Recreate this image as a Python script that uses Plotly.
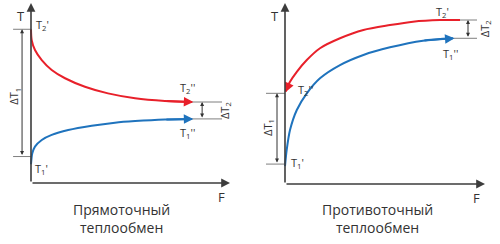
import plotly.graph_objects as go

# ---------------- data (F, T in relative units 0..100) ----------------
# Left panel: co-current (Прямоточный)
L_hot_F = [0, 0.35, 2, 5.4, 10.4, 17.1, 27.1, 38.7, 52.3, 67.3, 80.9]
L_hot_T = [85.4, 79.4, 73.9, 68.3, 62.8, 58.2, 53.5, 49.8, 47.1, 45.6, 45.0]
L_cold_F = [0, 0.65, 2, 5.4, 10.4, 18.7, 30.5, 42.2, 52.3, 67.3, 80.9]
L_cold_T = [10.4, 16.5, 20.2, 23.9, 26.7, 29.4, 31.8, 33.5, 34.4, 35.3, 35.6]
L_dT1 = [85.4, 14.7]   # ΔT1 bracket levels
L_dT2 = [45.0, 35.6]   # ΔT2 bracket levels

# Right panel: counter-current (Противоточный)
R_hot_F = [87.5, 77.5, 64, 52.5, 39.2, 27.5, 17.5, 10.9, 5.9, 2.5, 0.3]
R_hot_T = [90.6, 90.6, 89.7, 87.8, 85.1, 80.5, 75.0, 68.5, 62.0, 56.5, 51.0]
R_cold_F = [0, 0.85, 2.5, 5.9, 10.9, 17.5, 27.5, 39.2, 52.5, 69, 84]
R_cold_T = [9.9, 18.8, 29.8, 40.9, 50.1, 58.4, 65.7, 71.3, 75.5, 79.2, 80.5]
R_dT1 = [50.1, 11.0]
R_dT2 = [90.6, 80.5]

titles = ["Прямоточный<br>теплообмен", "Противоточный<br>теплообмен"]

RED = "#e8202a"
BLUE = "#1f73bd"
AX = "#3c3c3c"
GR = "#7f7f7f"
FONT = "Open Sans"

W, H = 500, 244

def ranges(px0, px1, ox, fx, oy, ty):
    sx = (fx - ox) / 100.0
    sy = (oy - ty) / 100.0
    xr = [(px0 - ox) / sx, (px1 - ox) / sx]
    yr = [(oy - H) / sy, oy / sy]
    return xr, yr

xr1, yr1 = ranges(0, 250, 31, 230, 183, 3)
xr2, yr2 = ranges(250, 500, 285, 485, 184, 3)

fig = go.Figure()

def curve(F, T, color, xa, ya):
    fig.add_trace(go.Scatter(x=F, y=T, mode="lines", line=dict(color=color, width=2, shape="spline", smoothing=0.8),
                             xaxis=xa, yaxis=ya, hoverinfo="skip", showlegend=False))

curve(L_hot_F, L_hot_T, RED, "x", "y")
curve(L_cold_F, L_cold_T, BLUE, "x", "y")
curve(R_hot_F, R_hot_T, RED, "x2", "y2")
curve(R_cold_F, R_cold_T, BLUE, "x2", "y2")

ann = []
shapes = []

def arrow(x, y, ax, ay, xr, yr, color, width=2, head=2, size=1.0, side="end"):
    ann.append(dict(x=x, y=y, ax=ax, ay=ay, xref=xr, yref=yr, axref=xr, ayref=yr, text="",
                    showarrow=True, arrowhead=head, arrowsize=size, arrowwidth=width,
                    arrowcolor=color, arrowside=side, standoff=0, startstandoff=0))

def line(x0, y0, x1, y1, xr, yr, color=GR, width=1):
    shapes.append(dict(type="line", x0=x0, y0=y0, x1=x1, y1=y1, xref=xr, yref=yr,
                       line=dict(color=color, width=width), layer="above"))

def text(x, y, s, xr, yr, size=11, angle=0, xanchor="center", yanchor="middle", color="#333"):
    ann.append(dict(x=x, y=y, text=s, xref=xr, yref=yr, showarrow=False, textangle=angle,
                    xanchor=xanchor, yanchor=yanchor, font=dict(family=FONT, size=size, color=color)))

def curve_head(F, T, color, xr, yr):
    arrow(F[-1] + (F[-1] - F[-2]) * 0.05, T[-1] + (T[-1] - T[-2]) * 0.05, F[-2], T[-2], xr, yr, color, width=2, head=2, size=0.95)

curve_head(L_hot_F, L_hot_T, RED, "x", "y")
curve_head(L_cold_F, L_cold_T, BLUE, "x", "y")
curve_head(R_hot_F, R_hot_T, RED, "x2", "y2")
curve_head(R_cold_F, R_cold_T, BLUE, "x2", "y2")

# ----- axes -----
for xr, yr in (("x", "y"), ("x2", "y2")):
    arrow(0, 100, 0, 0, xr, yr, AX, width=1.6, head=2, size=1.1)
    arrow(100, 0, 0, 0, xr, yr, AX, width=1.6, head=2, size=1.1)
    text(-5, 93, "T", xr, yr, size=13)
    text(95.5, -8, "F", xr, yr, size=13)

# ----- left panel annotations -----
text(1.5, 88, "T<sub>2</sub>'", "x", "y", xanchor="left")
text(1.0, 8, "T<sub>1</sub>'", "x", "y", xanchor="left")
text(78.4, 53, "T<sub>2</sub>''", "x", "y")
text(78.4, 28, "T<sub>1</sub>''", "x", "y")
line(-9, L_dT1[0], 0, L_dT1[0], "x", "y")
line(-9, L_dT1[1], 0, L_dT1[1], "x", "y")
arrow(-4.5, L_dT1[0], -4.5, L_dT1[1], "x", "y", "#333", width=1, head=2, size=0.8, side="end+start")
text(-8.5, 48, "ΔT<sub>1</sub>", "x", "y", angle=-90)
line(L_hot_F[-1], L_dT2[0], 96, L_dT2[0], "x", "y")
line(L_cold_F[-1], L_dT2[1], 96, L_dT2[1], "x", "y")
arrow(86, L_dT2[0], 86, L_dT2[1], "x", "y", "#333", width=1, head=2, size=0.8, side="end+start")
text(97.5, 40, "ΔT<sub>2</sub>", "x", "y", angle=-90)
text(45.7, -19.5, titles[0], "x", "y", size=14)

# ----- right panel annotations -----
text(78.5, 95, "T<sub>2</sub>'", "x2", "y2")
text(82.5, 72, "T<sub>1</sub>''", "x2", "y2")
text(10, 52, "T<sub>2</sub>''", "x2", "y2")
text(6, 11.6, "T<sub>1</sub>'", "x2", "y2")
line(-9.5, R_dT1[0], 0, R_dT1[0], "x2", "y2")
line(-9.5, R_dT1[1], 0, R_dT1[1], "x2", "y2")
arrow(-4, R_dT1[0], -4, R_dT1[1], "x2", "y2", "#333", width=1, head=2, size=0.8, side="end+start")
text(-8.5, 31, "ΔT<sub>1</sub>", "x2", "y2", angle=-90)
line(R_hot_F[0], R_dT2[0], 96, R_dT2[0], "x2", "y2")
line(R_cold_F[-1], R_dT2[1], 96, R_dT2[1], "x2", "y2")
arrow(91.5, R_dT2[0], 91.5, R_dT2[1], "x2", "y2", "#333", width=1, head=2, size=0.8, side="end+start")
text(100, 85.5, "ΔT<sub>2</sub>", "x2", "y2", angle=-90)
text(46, -19, titles[1], "x2", "y2", size=14)

axis_common = dict(visible=False, showgrid=False, zeroline=False, fixedrange=True)
fig.update_layout(
    width=W, height=H, margin=dict(l=0, r=0, t=0, b=0),
    paper_bgcolor="white", plot_bgcolor="rgba(0,0,0,0)",
    xaxis=dict(domain=[0, 0.5], range=xr1, **axis_common),
    yaxis=dict(domain=[0, 1], range=yr1, **axis_common),
    xaxis2=dict(domain=[0.5, 1], range=xr2, anchor="y2", **axis_common),
    yaxis2=dict(domain=[0, 1], range=yr2, anchor="x2", **axis_common),
    annotations=ann, shapes=shapes, showlegend=False,
)

fig.write_html("out.html")
